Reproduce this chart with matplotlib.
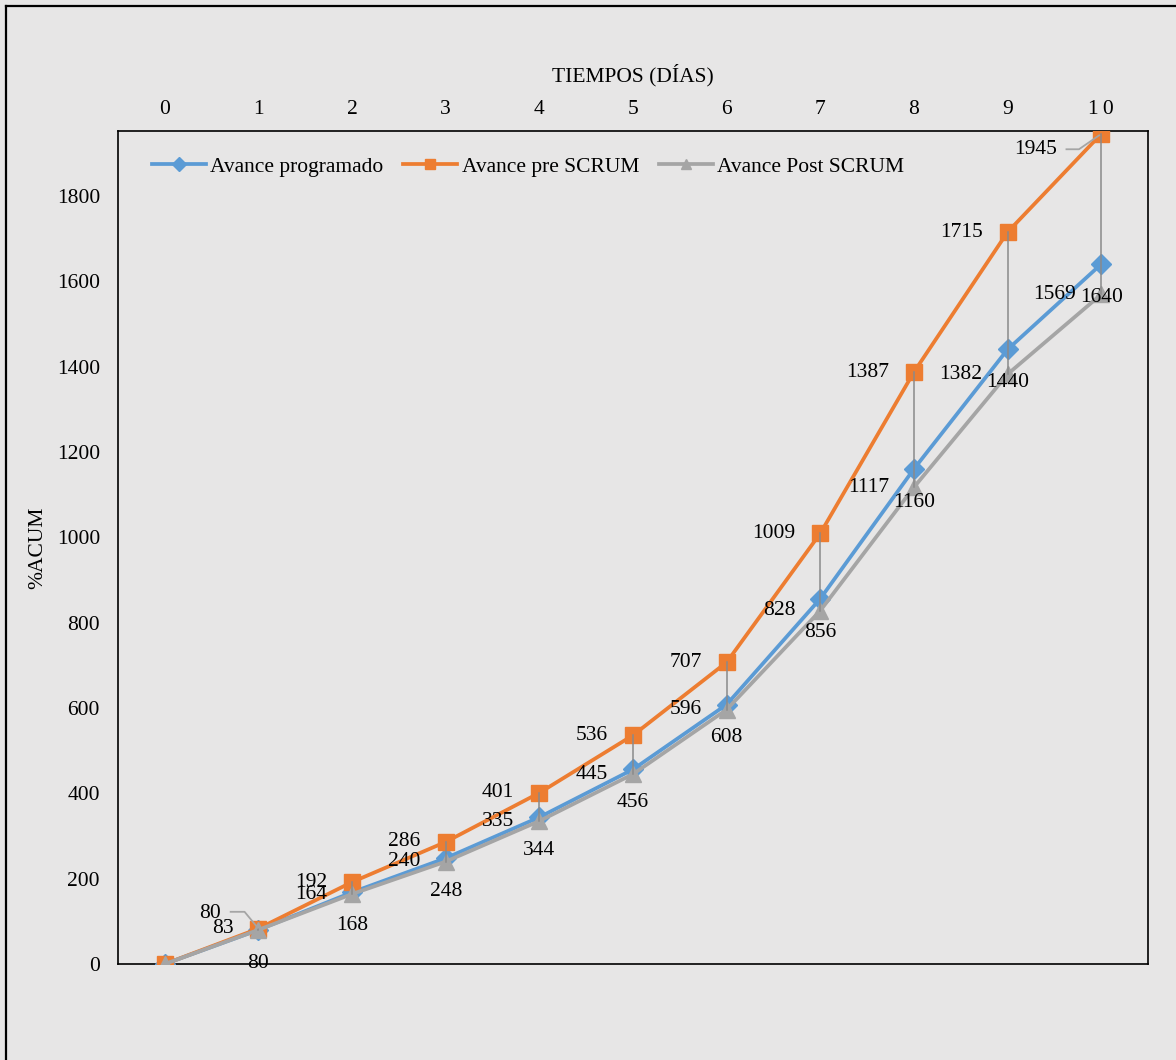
import matplotlib
matplotlib.use("Agg")
import matplotlib.pyplot as plt
import matplotlib.transforms as mtrans
from matplotlib.lines import Line2D

plt.rcParams['font.family'] = ['Liberation Serif', 'DejaVu Serif']

# Days and cumulative progress per series
dias = [0, 1, 2, 3, 4, 5, 6, 7, 8, 9, 10]
dia_labels = ["0", "1", "2", "3", "4", "5", "6", "7", "8", "9", "1\u20090"]
avance_programado = [0, 80, 168, 248, 344, 456, 608, 856, 1160, 1440, 1640]
avance_pre_scrum = [0, 83, 192, 286, 401, 536, 707, 1009, 1387, 1715, 1945]
avance_post_scrum = [0, 80, 164, 240, 335, 445, 596, 828, 1117, 1382, 1569]
y_ticks = [0, 200, 400, 600, 800, 1000, 1200, 1400, 1600, 1800]

BG = "#E7E6E6"
BLUE = "#5B9BD5"
ORANGE = "#ED7D31"
GRAY = "#A5A5A5"
DROP = "#8A8A8A"
FS = 15.5

W, H = 1176, 1060
fig = plt.figure(figsize=(W / 100, H / 100), dpi=100, facecolor=BG)
ax = fig.add_axes([118 / W, 1 - 964 / H, (1148 - 118) / W, (964 - 131) / H])
ax.set_facecolor(BG)

# Outer chart frame (left and top edges)
fig.add_artist(Line2D([6 / W, 6 / W], [0, 1 - 6 / H], transform=fig.transFigure,
                      color="black", lw=1.6))
fig.add_artist(Line2D([6 / W, 1], [1 - 6 / H, 1 - 6 / H], transform=fig.transFigure,
                      color="black", lw=1.6))

ax.plot(dias, avance_programado, color=BLUE, lw=2.7, marker="D", ms=10.5,
        label="Avance programado", zorder=3)
ax.plot(dias, avance_pre_scrum, color=ORANGE, lw=2.7, marker="s", ms=12,
        label="Avance pre SCRUM", zorder=4)
ax.plot(dias, avance_post_scrum, color=GRAY, lw=2.7, marker="^", ms=12,
        label="Avance Post SCRUM", zorder=5)

# Drop lines between highest and lowest series at each day
for x, a, b, c in zip(dias, avance_programado, avance_pre_scrum, avance_post_scrum):
    ax.plot([x, x], [max(a, b, c), min(a, b, c)], color=DROP, lw=1.1, zorder=6)

ax.set_xlim(-0.5, 10.5)
ax.set_ylim(0, 1952)


def label(x, y, text, dx, dy, ha):
    ax.annotate(text, (x, y), xytext=(dx, dy), textcoords="offset points",
                ha=ha, va="center", fontsize=FS, zorder=7)


def leader(x, y, pts):
    """Polyline given in point offsets from a data point."""
    xs, ys = [], []
    for dx, dy in pts:
        off = mtrans.ScaledTranslation(dx / 72, dy / 72, fig.dpi_scale_trans)
        px, py = (ax.transData + off).transform((x, y))
        xs.append(px)
        ys.append(py)
    fig.add_artist(Line2D(xs, ys, transform=mtrans.IdentityTransform(),
                          color=GRAY, lw=1.3, zorder=8))


# Data labels
for i, x in enumerate(dias[1:], start=1):
    if i == 10:
        label(x, avance_pre_scrum[i], str(avance_pre_scrum[i]), -32, -11, "right")
    else:
        label(x, avance_pre_scrum[i], str(avance_pre_scrum[i]), -18, 0, "right")
    if i == 1:
        label(x, avance_post_scrum[i], str(avance_post_scrum[i]), -27, 12, "right")
    else:
        label(x, avance_post_scrum[i], str(avance_post_scrum[i]), -18, 0, "right")
    label(x, avance_programado[i], str(avance_programado[i]), 0, -24, "center")

leader(10, avance_pre_scrum[10], [(-25, -11), (-16, -11), (-1.5, -1)])
leader(1, avance_post_scrum[1], [(-20, 13), (-10, 13), (-0.5, 1.5)])

ax.xaxis.tick_top()
ax.xaxis.set_label_position("top")
ax.set_xticks(dias)
ax.set_xticklabels(dia_labels)
ax.set_yticks(y_ticks)
ax.tick_params(axis="both", length=0, labelsize=FS, colors="black")
ax.tick_params(axis="x", pad=9)
ax.tick_params(axis="y", pad=13)
ax.set_xlabel("TIEMPOS (DÍAS)", fontsize=FS, labelpad=13)
ax.set_ylabel("%ACUM", fontsize=FS, labelpad=7)
for s in ax.spines.values():
    s.set_color("black")
    s.set_linewidth(1.2)

ax.legend(loc="center left", bbox_to_anchor=((152 - 118) / 1030, (964 - 167) / 833),
          ncol=3, frameon=False, fontsize=FS, handlelength=2.5, handletextpad=0.2,
          columnspacing=0.93, borderpad=0, borderaxespad=0, markerscale=0.65)

fig.savefig("out.png", dpi=100, facecolor=BG)
